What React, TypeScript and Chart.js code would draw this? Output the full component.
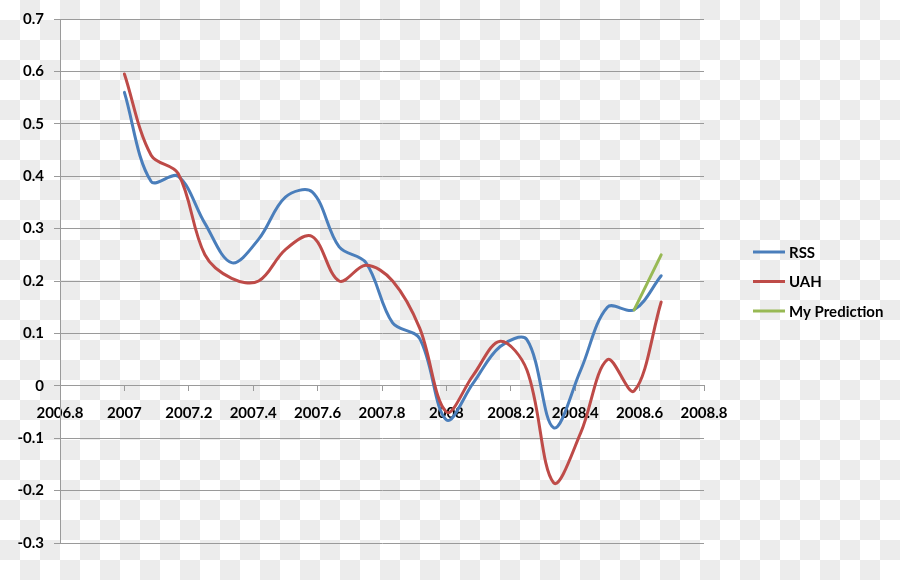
import React, { useEffect, useRef } from "react";
import { Chart, registerables } from "chart.js";

Chart.register(...registerables);

// Monthly observations, Jan 2007 .. Sep 2008 (decimal years)
const years = [
  2007.0, 2007.083, 2007.167, 2007.25, 2007.333, 2007.417, 2007.5, 2007.583,
  2007.667, 2007.75, 2007.833, 2007.917, 2008.0, 2008.083, 2008.167, 2008.25,
  2008.333, 2008.417, 2008.5, 2008.583, 2008.667,
];

const rss = [
  0.56, 0.39, 0.4, 0.31, 0.235, 0.28, 0.36, 0.37, 0.265, 0.235, 0.12, 0.09,
  -0.065, 0.005, 0.075, 0.088, -0.08, 0.03, 0.15, 0.145, 0.21,
];

const uah = [
  0.595, 0.44, 0.405, 0.25, 0.205, 0.2, 0.26, 0.285, 0.2, 0.23, 0.2, 0.11,
  -0.05, 0.02, 0.085, 0.03, -0.185, -0.09, 0.05, -0.01, 0.16,
];

const predictionYears = [2008.583, 2008.667];
const prediction = [0.145, 0.25];

const seriesNames = ["RSS", "UAH", "My Prediction"];
const seriesColors = ["#4A7EBB", "#BE4B48", "#98B954"];

const FONT = "Lato, 'Open Sans', sans-serif";
const FONT_SIZE = 15;
const GRID = "#9a9a9a";

const fmt = (v: number) => {
  const r = Math.round(v * 10) / 10;
  return r === 0 ? "0" : String(r);
};

const legendPlugin = {
  id: "sideLegend",
  afterDraw(chart: any) {
    const { ctx, chartArea } = chart;
    const x0 = chartArea.right + 49;
    const y0 = 252;
    const gap = 29.5;
    ctx.save();
    chart.data.datasets.forEach((ds: any, i: number) => {
      const y = y0 + i * gap;
      ctx.strokeStyle = ds.borderColor;
      ctx.lineWidth = 3;
      ctx.lineCap = "butt";
      ctx.beginPath();
      ctx.moveTo(x0, y);
      ctx.lineTo(x0 + 32, y);
      ctx.stroke();
      ctx.fillStyle = "#000";
      ctx.font = `bold ${FONT_SIZE}px ${FONT}`;
      ctx.textBaseline = "middle";
      ctx.textAlign = "left";
      ctx.fillText(ds.label, x0 + 36, y + 1);
    });
    ctx.restore();
  },
};

export default function App() {
  const ref = useRef<HTMLCanvasElement | null>(null);

  useEffect(() => {
    if (!ref.current) return;
    const mk = (xs: number[], ys: number[]) => xs.map((x, i) => ({ x, y: ys[i] }));
    const common = {
      borderWidth: 3,
      pointRadius: 0,
      tension: 0.35,
      fill: false,
      borderCapStyle: "round" as const,
      borderJoinStyle: "round" as const,
    };
    const chart = new Chart(ref.current, {
      type: "line",
      data: {
        datasets: [
          { ...common, label: seriesNames[0], data: mk(years, rss), borderColor: seriesColors[0], backgroundColor: seriesColors[0], order: 2 },
          { ...common, label: seriesNames[1], data: mk(years, uah), borderColor: seriesColors[1], backgroundColor: seriesColors[1], order: 1 },
          { ...common, label: seriesNames[2], data: mk(predictionYears, prediction), borderColor: seriesColors[2], backgroundColor: seriesColors[2], order: 0 },
        ],
      },
      options: {
        responsive: false,
        animation: false,
        layout: { padding: { top: 18, bottom: 37, left: 0, right: 196 } },
        plugins: {
          legend: { display: false },
          tooltip: { enabled: false },
        },
        scales: {
          x: {
            type: "linear",
            position: { y: 0 } as any,
            min: 2006.8,
            max: 2008.8,
            grid: {
              display: true,
              drawOnChartArea: false,
              drawTicks: true,
              tickLength: 5,
              color: GRID,
            },
            border: { display: true, color: GRID, width: 1 },
            ticks: {
              stepSize: 0.2,
              autoSkip: false,
              maxRotation: 0,
              padding: 13,
              color: "#000",
              font: { family: FONT, size: FONT_SIZE, weight: "bold" },
              callback: (v: any) => fmt(Number(v)),
            },
          },
          y: {
            type: "linear",
            min: -0.3,
            max: 0.7,
            afterFit: (scale: any) => {
              scale.width = 60;
            },
            grid: {
              color: GRID,
              tickLength: 6,
              drawTicks: true,
            },
            border: { display: true, color: GRID, width: 1 },
            ticks: {
              stepSize: 0.1,
              padding: 10,
              color: "#000",
              font: { family: FONT, size: FONT_SIZE, weight: "bold" },
              callback: (v: any) => fmt(Number(v)),
            },
          },
        },
      },
      plugins: [legendPlugin],
    });
    return () => chart.destroy();
  }, []);

  return (
    <div
      style={{
        position: "absolute",
        left: 0,
        top: 0,
        width: 900,
        height: 580,
        background: "repeating-conic-gradient(#ececec 0% 25%, #ffffff 0% 50%) 0 0 / 40px 40px",
      }}
    >
      <canvas ref={ref} width={900} height={580} style={{ display: "block" }} />
    </div>
  );
}
